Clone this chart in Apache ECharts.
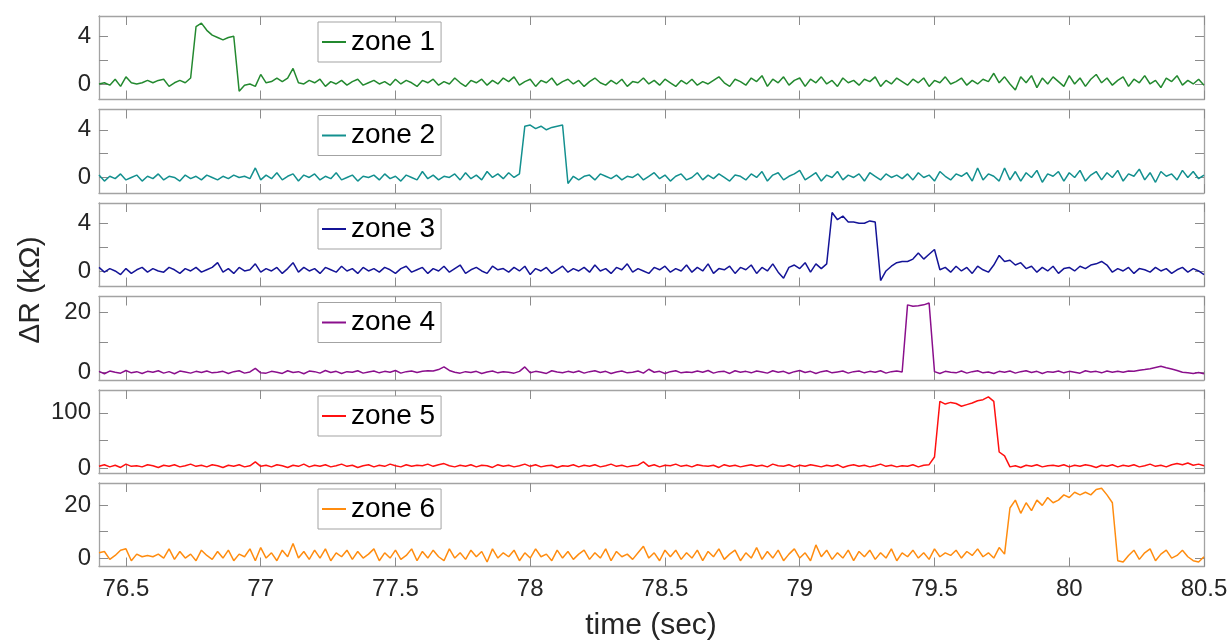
<!DOCTYPE html>
<html>
<head>
<meta charset="utf-8">
<title>zone response</title>
<script src="https://cdn.jsdelivr.net/npm/echarts@6.0.0/dist/echarts.min.js"></script>
<style>
  html, body { margin: 0; padding: 0; background: #fff; }
  #chart { width: 1230px; height: 641px; }
</style>
</head>
<body>
<div id="chart"></div>
<script>
// 数据 (ΔR, kΩ) -- 采样间隔 0.02 s, 从 76.40 s 到 80.50 s
var zone1 = [
  0.0, 0.1, -0.1, 0.4, -0.2, 0.6, 0.1, 0.0, 0.1, 0.3,
  0.1, 0.3, 0.4, -0.2, 0.1, 0.3, 0.1, 0.5, 4.8, 5.1,
  4.5, 4.1, 3.9, 3.7, 3.9, 4.0, -0.6, -0.1, 0.0, -0.2,
  0.8, 0.1, 0.2, 0.5, 0.2, 0.5, 1.3, 0.1, 0.0, 0.3,
  0.1, 0.4, -0.2, 0.2, 0.0, 0.3, -0.1, 0.2, 0.4, -0.1,
  0.1, 0.3, 0.0, 0.2, -0.1, 0.4, 0.0, 0.3, 0.1, -0.2,
  0.3, 0.1, 0.4, -0.1, 0.2, 0.0, 0.5, 0.1, -0.2, 0.3,
  0.1, 0.4, -0.1, 0.3, 0.0, 0.5, 0.2, 0.6, -0.1, 0.2,
  0.4, -0.2, 0.3, 0.1, 0.5, -0.1, 0.2, 0.4, 0.0, 0.3,
  -0.2, 0.2, 0.5, 0.1, -0.1, 0.3, 0.0, 0.4, -0.2, 0.2,
  0.1, 0.5, 0.0, 0.3, -0.1, 0.4, 0.1, -0.2, 0.3, 0.0,
  0.4, -0.1, 0.2, 0.0, 0.3, 0.6, 0.1, -0.2, 0.4, 0.2,
  -0.1, 0.5, 0.2, 0.7, -0.2, 0.4, 0.1, 0.6, -0.1, 0.3,
  0.5, -0.2, 0.4, 0.1, 0.6, 0.0, 0.3, -0.2, 0.5, 0.1,
  0.3, -0.1, 0.4, 0.2, 0.6, -0.2, 0.3, 0.0, 0.5, 0.2,
  -0.1, 0.4, 0.1, 0.5, -0.2, 0.3, 0.1, 0.6, 0.0, 0.2,
  0.5, -0.1, 0.3, 0.0, 0.4, 0.2, 0.9, 0.1, 0.6, 0.0,
  -0.5, 0.6, 0.1, 0.7, -0.3, 0.5, 0.0, 0.6, 0.2, -0.2,
  0.7, 0.0, 0.5, -0.2, 0.4, 0.8, 0.1, 0.5, -0.1, 0.3,
  0.6, -0.2, 0.4, 0.1, 0.7, 0.0, 0.3, -0.3, 0.5, 0.2,
  0.7, -0.1, 0.3, 0.0, 0.4, -0.1
];
var zone2 = [
  0.2, -0.3, 0.1, -0.1, 0.3, -0.2, 0.0, 0.2, -0.3, 0.1,
  -0.1, 0.3, -0.2, 0.1, 0.0, -0.3, 0.2, -0.1, 0.1, -0.2,
  0.2, 0.0, -0.2, 0.1, -0.1, 0.2, 0.0, 0.1, -0.1, 0.8,
  -0.2, 0.2, -0.1, 0.4, -0.2, 0.1, 0.3, -0.3, 0.2, 0.0,
  0.3, -0.2, 0.1, -0.1, 0.4, -0.2, 0.0, 0.2, -0.3, 0.1,
  0.0, 0.2, -0.2, 0.3, -0.1, 0.1, -0.3, 0.2, 0.0, -0.2,
  0.5, -0.1, 0.2, -0.2, 0.1, 0.0, 0.3, -0.2, 0.4, -0.1,
  0.2, -0.2, 0.5, 0.0, 0.3, -0.1, 0.4, 0.0, 0.3, 4.3,
  4.4, 4.1, 4.3, 4.0, 4.2, 4.3, 4.4, -0.5, 0.1, -0.2,
  0.1, 0.2, -0.2, 0.3, 0.1, -0.1, 0.2, -0.2, 0.1, 0.0,
  0.3, -0.2, 0.1, 0.4, -0.1, 0.2, -0.3, 0.1, 0.3, -0.2,
  0.0, 0.4, -0.2, 0.2, -0.1, 0.3, 0.0, -0.3, 0.2, 0.1,
  -0.2, 0.3, 0.0, 0.5, -0.3, 0.2, 0.4, -0.2, 0.1, 0.3,
  0.6, -0.2, 0.1, 0.4, -0.3, 0.2, 0.0, 0.5, -0.2, 0.2,
  0.0, 0.3, -0.3, 0.4, 0.1, -0.2, 0.3, 0.0, 0.2, -0.1,
  0.3, -0.2, 0.4, 0.0, 0.2, -0.3, 0.5, 0.1, -0.2, 0.3,
  0.1, 0.4, -0.3, 0.8, -0.2, 0.3, 0.1, -0.3, 0.8, -0.2,
  0.5, -0.3, 0.4, 0.0, 0.6, -0.4, 0.3, 0.1, 0.5, -0.3,
  0.4, 0.0, 0.6, -0.3, 0.2, 0.5, -0.2, 0.4, 0.0, 0.6,
  -0.3, 0.3, 0.1, 0.7, -0.2, 0.4, -0.4, 0.5, 0.1, 0.3,
  -0.2, 0.6, 0.0, 0.5, -0.1, 0.2
];
var zone3 = [
  0.3, -0.1, 0.2, 0.0, -0.3, 0.2, -0.2, 0.1, 0.3, -0.1,
  0.2, 0.0, -0.1, 0.3, 0.1, -0.2, 0.2, 0.0, 0.3, -0.1,
  0.1, 0.3, 0.7, -0.1, 0.2, -0.2, 0.3, 0.0, 0.1, 0.6,
  -0.1, 0.2, 0.0, 0.3, -0.2, 0.2, 0.7, -0.1, 0.3, 0.0,
  0.2, -0.2, 0.3, 0.1, -0.1, 0.4, 0.0, 0.2, -0.2, 0.3,
  0.0, 0.2, -0.1, 0.3, 0.1, -0.2, 0.2, 0.4, -0.1, 0.1,
  0.3, -0.2, 0.2, 0.0, 0.4, -0.1, 0.2, 0.5, -0.2, 0.1,
  0.3, 0.0, -0.2, 0.4, 0.1, 0.2, -0.1, 0.3, 0.0, 0.4,
  -0.3, 0.2, 0.0, 0.3, -0.2, 0.1, 0.4, -0.1, 0.2, 0.0,
  0.3, -0.1, 0.5, 0.0, 0.2, -0.2, 0.3, 0.1, 0.6, -0.1,
  0.2, 0.0, -0.2, 0.3, 0.1, 0.4, -0.1, 0.2, 0.0, 0.5,
  -0.1, 0.3, 0.0, 0.6, -0.2, 0.2, 0.1, 0.4, -0.2, 0.3,
  0.1, 0.5, -0.2, 0.3, 0.0, 0.6, -0.1, -0.6, 0.3, 0.5,
  0.2, 0.7, -0.1, 0.6, 0.2, 0.6, 4.9, 4.3, 4.6, 4.1,
  4.1, 4.0, 4.0, 4.2, 4.1, -0.8, 0.0, 0.4, 0.7, 0.8,
  0.8, 1.0, 1.5, 1.0, 1.4, 1.8, 0.1, 0.3, -0.1, 0.4,
  0.0, 0.3, -0.2, 0.4, 0.1, -0.1, 0.5, 1.3, 0.8, 0.9,
  0.5, 0.7, 0.2, 0.4, -0.1, 0.3, 0.0, 0.4, -0.2, 0.2,
  0.3, 0.0, 0.4, 0.2, 0.5, 0.6, 0.8, 0.5, -0.1, 0.2,
  0.0, 0.3, -0.2, 0.2, 0.1, -0.1, 0.3, 0.0, 0.2, -0.2,
  0.1, 0.3, -0.1, 0.2, 0.0, -0.3
];
var zone4 = [
  0.3, -0.5, 0.4, 0.0, -0.3, 0.6, -0.2, 0.2, -0.4, 0.3,
  0.0, 0.5, -0.3, 0.2, -0.5, 0.4, 0.1, -0.3, 0.3, -0.1,
  0.4, -0.2, 0.0, 0.3, -0.4, 0.2, 0.5, -0.3, 0.1, 1.3,
  -0.2, -0.3, 0.3, 0.0, -0.4, 0.5, -0.1, 0.2, -0.5, 0.4,
  0.2, -0.3, 0.6, -0.1, 0.3, -0.4, 0.2, 0.0, 0.5, -0.3,
  0.1, 0.4, -0.2, 0.3, 0.0, 0.6, -0.3, 0.2, 0.4, -0.1,
  0.3, 0.5, 0.4, 0.9, 1.8, 0.6, 0.0, -0.3, 0.2, -0.1,
  0.3, -0.4, 0.1, 0.4, -0.2, 0.2, 0.0, -0.3, 0.3, 1.8,
  -0.2, 0.3, 0.0, -0.4, 0.5, 0.1, -0.2, 0.3, -0.1, 0.4,
  -0.3, 0.2, 0.5, -0.1, 0.3, -0.4, 0.1, 0.4, -0.2, 0.0,
  0.4, -0.3, 1.0, 0.0, 0.3, -0.4, 0.2, 0.5, -0.2, 0.1,
  -0.1, 0.4, 0.0, 0.6, -0.3, 0.2, 0.3, -0.4, 0.5, 0.0,
  0.3, -0.2, 0.4, 0.1, -0.3, 0.5, 0.0, 0.3, -0.4, 0.2,
  0.6, -0.1, 0.3, -0.4, 0.2, 0.5, -0.2, 0.1, 0.4, -0.3,
  0.2, 0.4, -0.2, 0.3, 0.0, 0.5, -0.3, 0.2, 0.4, 0.1,
  22.6, 22.1, 22.3, 22.6, 23.2, 0.2, -0.4, 0.3, 0.0, -0.2,
  0.4, -0.3, 0.2, 0.5, -0.2, 0.1, -0.4, 0.3, 0.0, 0.4,
  -0.3, 0.2, 0.5, -0.1, 0.3, -0.4, 0.2, 0.0, 0.4, -0.2,
  0.3, 0.0, -0.3, 0.5, 0.1, 0.3, -0.2, 0.4, 0.0, 0.3,
  0.0, 0.4, 0.3, 0.7, 0.9, 1.2, 1.6, 2.0, 1.5, 1.1,
  0.6, 0.0, -0.2, -0.4, -0.1, -0.5
];
var zone5 = [
  3, 6, 2, 5, 1, 7, 3, 4, 2, 6,
  4, 1, 5, 3, 6, 2, 4, 7, 3, 5,
  2, 6, 4, 1, 5, 3, 6, 2, 4, 11,
  3, 5, 2, 6, 4, 1, 5, 3, 7, 2,
  5, 3, 6, 2, 4, 7, 3, 5, 1, 4,
  6, 2, 5, 3, 7, 4, 2, 6, 3, 5,
  4, 7, 3, 6, 8, 4, 2, 5, 3, 6,
  2, 5, 4, 1, 6, 3, 5, 2, 4, 7,
  3, 6, 2, 4, 5, 1, 4, 3, 6, 2,
  5, 3, 6, 2, 4, 7, 3, 5, 2, 4,
  5, 11, 3, 6, 2, 5, 4, 7, 3, 5,
  2, 6, 4, 3, 5, 1, 6, 3, 5, 2,
  4, 6, 3, 5, 2, 7, 4, 3, 6, 2,
  5, 3, 6, 4, 2, 5, 3, 6, 1, 4,
  6, 3, 5, 2, 4, 7, 3, 5, 2, 4,
  3, 6, 2, 5, 6, 20, 121, 116, 119, 117,
  112, 115, 118, 122, 124, 129, 121, 29, 22, 2,
  4, 1, 5, 3, 6, 2, 4, 5, 3, 6,
  2, 5, 3, 6, 4, 1, 5, 3, 6, 2,
  5, 3, 6, 2, 4, 7, 3, 5, 2, 6,
  8, 6, 9, 5, 7, 4
];
var zone6 = [
  2, 2.5, -0.5, 1, 3, 3.5, -1, 1.5, 0.5, 1,
  0.5, 1.5, 0, 3.5, -0.5, 2.5, 0, 1.5, -1, 3,
  1, -0.5, 2.5, 0, 3, -1, 1.5, 0.5, 3.5, -1,
  4, 0, 2, -1, 3, 0.5, 5.5, 0, 2.5, -0.5,
  3, 0, 3.5, -1, 2, 0.5, 3, -0.5, 2.5, 0,
  1.5, 3.5, -1, 2, 0, 3, -0.5, 1, 3.5, -1,
  2.5, 0, 3, 0.5, -1, 3.5, 0, 2, -0.5, 3,
  0.5, 2.5, -1.5, 3.5, 0, 2, 0.5, 3, -1, 2,
  0, 3.5, 0.5, 1.5, -1, 3, 0, 2.5, -0.5, 1.5,
  3, -0.5, 2, 0, 3.5, -1, 2.5, 0.5, 1.5, -0.5,
  2, 4.5, 0, 2, -1, 3, 0.5, 3, -0.5, 2,
  0, 3, -1, 2.5, 0.5, 3.5, -0.5, 1.5, 3, -1,
  2, 0, 4, -0.5, 2.5, 0, 3, -1, 1.5, 3.5,
  0, 2, -1, 5, 0.5, 3, -0.5, 2, 0, 3,
  -1, 2.5, 0.5, 3, -0.5, 2, 0, 3.5, -1, 2,
  0.5, 3, 0, 2, -0.5, 3.5, 0.5, 2, 1, 3,
  0, 2.5, 1, 3.5, 0.5, 2, 0, 4, 1.5, 19,
  22, 17, 21, 18, 22, 20, 23, 21, 22, 24,
  23, 25, 24, 25, 24, 26, 26.5, 24, 21, -1,
  -1.5, 1, 3, -0.5, 2, 3.5, -1, 1.5, 3, 0,
  1, 3, 0.5, -1, -1.5, 0.5
];

var zoneNames = ['zone 1', 'zone 2', 'zone 3', 'zone 4', 'zone 5', 'zone 6'];
var xTicks = [76.5, 77, 77.5, 78, 78.5, 79, 79.5, 80, 80.5];
var yTicks = [[0, 2, 4], [0, 2, 4], [0, 2, 4], [0, 10, 20], [0, 50, 100], [0, 10, 20]];
var yTickLabels = [[0, 4], [0, 4], [0, 4], [0, 20], [0, 100], [0, 20]];
var yRanges = [[-1.3, 5.7], [-1.3, 5.7], [-1.3, 5.7], [-2.6, 25.4], [-10, 141.5], [-3.2, 28.5]];

var T_START = 76.4, T_STEP = 0.02;
var zones = [zone1, zone2, zone3, zone4, zone5, zone6];
var colors = ['#23892f', '#13908f', '#141497', '#8a0f8c', '#ff1010', '#ff8c0f'];
var gridTops = [16, 109.5, 203, 296.5, 390, 483];
var GRID_H = 83.5;

var chart = echarts.init(document.getElementById('chart'), null, {renderer: 'canvas'});

var FONT = "'Liberation Sans', Helvetica, Arial, sans-serif";
var boxColor = '#a3a3a3';
var tickColor = '#8c8c8c';

function timeOf(i) {
  return +(T_START + i * T_STEP).toFixed(2);
}

var grids = [], xAxes = [], yAxes = [], series = [], legends = [];
zones.forEach(function (vals, k) {
  var last = (k === zones.length - 1);
  grids.push({left: 99, right: 26, top: gridTops[k], height: GRID_H, outerBoundsMode: 'none'});

  // x 轴 (下/上)
  ['bottom', 'top'].forEach(function (pos) {
    xAxes.push({
      type: 'value', gridIndex: k, position: pos, min: 76.4, max: 80.5,
      axisLine: {show: true, onZero: false, lineStyle: {color: boxColor, width: 1.3}},
      axisTick: {show: true, inside: true, length: 9, customValues: xTicks, lineStyle: {color: tickColor}},
      axisLabel: {show: last && pos === 'bottom', customValues: xTicks, margin: 11,
        color: '#262626', fontSize: 24, fontFamily: FONT},
      splitLine: {show: false}
    });
  });
  // y 轴 (左/右)
  ['left', 'right'].forEach(function (pos) {
    yAxes.push({
      type: 'value', gridIndex: k, position: pos, min: yRanges[k][0], max: yRanges[k][1],
      axisLine: {show: true, onZero: false, lineStyle: {color: boxColor, width: 1.3}},
      axisTick: {show: true, inside: true, length: 9, customValues: yTicks[k], lineStyle: {color: tickColor}},
      axisLabel: {show: pos === 'left', customValues: yTickLabels[k], margin: 8,
        color: '#262626', fontSize: 24, fontFamily: FONT},
      splitLine: {show: false}
    });
  });

  series.push({
    name: zoneNames[k], type: 'line', xAxisIndex: k * 2, yAxisIndex: k * 2,
    showSymbol: false, symbol: 'none', smooth: false,
    lineStyle: {color: colors[k], width: 1.5}, itemStyle: {color: colors[k]},
    data: vals.map(function (v, i) { return [timeOf(i), v]; })
  });

  // 图例
  legends.push({
    data: [zoneNames[k]], left: 318, top: gridTops[k] + 6,
    orient: 'horizontal', icon: 'rect', itemWidth: 24, itemHeight: 2,
    padding: [6, 6, 6, 4], borderColor: boxColor, borderWidth: 1, backgroundColor: '#fff',
    selectedMode: false,
    textStyle: {fontSize: 28, color: '#000', fontFamily: FONT}
  });
});

var option = {
  backgroundColor: '#fff',
  animation: false,
  grid: grids,
  xAxis: xAxes,
  yAxis: yAxes,
  legend: legends,
  series: series,
  graphic: [
    {
      type: 'text', x: 31, y: 290, rotation: Math.PI / 2,
      style: {text: 'ΔR (kΩ)', font: '30px ' + FONT, fill: '#262626', align: 'center', verticalAlign: 'middle'}
    },
    {
      type: 'text', x: 651, y: 626,
      style: {text: 'time (sec)', font: '30px ' + FONT, fill: '#262626', align: 'center', verticalAlign: 'middle'}
    }
  ]
};

chart.setOption(option);
</script>
</body>
</html>
